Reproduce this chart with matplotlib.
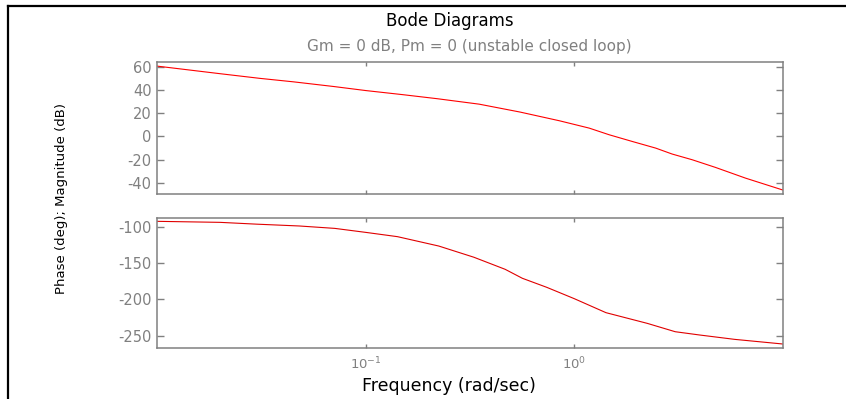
import matplotlib
matplotlib.use('Agg')

import matplotlib.pyplot as plt
from matplotlib.lines import Line2D
from matplotlib.ticker import FixedLocator, NullLocator

# open-loop response, magnitude branch
mag_freq = [0.01, 0.02, 0.031, 0.045, 0.07, 0.1, 0.15, 0.22, 0.35, 0.55,
            0.85, 1.18, 1.47, 1.9, 2.46, 2.95, 3.68, 4.76, 6.63, 10.0]
mag_db = [60.5, 54, 50, 47, 43, 39.5, 36, 32.5, 27.8, 21,
          13.5, 7.2, 1.5, -4.3, -10, -15.1, -20, -26.6, -35.8, -46]

# open-loop response, phase branch
phase_freq = [0.01, 0.02, 0.03, 0.048, 0.071, 0.1, 0.142, 0.224, 0.33, 0.466,
              0.564, 0.738, 1.0, 1.42, 2.24, 3.05, 3.99, 5.87, 10.0]
phase_deg = [-92.6, -94, -96.5, -99, -102.3, -107.8, -113.7, -126.6, -142, -158.6,
             -171, -183.4, -199, -218.3, -233, -244.5, -249, -255, -261.4]

mag_ticks = [60, 40, 20, 0, -20, -40]
phase_ticks = [-100, -150, -200, -250]
freq_ticks = [0.1, 1.0]

GREY = '#808080'

plt.rcParams['font.family'] = ['DejaVu Sans']
plt.rcParams['axes.unicode_minus'] = False

W, H = 846, 399
fig = plt.figure(figsize=(W / 100, H / 100), dpi=100)


def style_axes(ax, yticks):
    ax.set_xscale('log')
    ax.set_xlim(0.01, 10)
    ax.xaxis.set_major_locator(FixedLocator(freq_ticks))
    ax.xaxis.set_minor_locator(NullLocator())
    ax.set_yticks(yticks)
    for sp in ax.spines.values():
        sp.set_color(GREY)
        sp.set_linewidth(1.1)
    ax.tick_params(axis='both', which='both', direction='in', top=True, right=True,
                   color=GREY, labelcolor=GREY, width=1.0)
    ax.tick_params(axis='y', length=5, pad=4, labelsize=10.5)
    ax.tick_params(axis='x', length=3, pad=6, labelsize=9.5)


ax_mag = fig.add_axes([157.3 / W, 1 - 193.7 / H, (782.7 - 157.3) / W, (193.7 - 62.3) / H])
ax_mag.plot(mag_freq, mag_db, color='#ff0000', lw=0.8)
style_axes(ax_mag, mag_ticks)
ax_mag.set_ylim(-49.2, 63.8)
ax_mag.tick_params(axis='x', labelbottom=False)

ax_ph = fig.add_axes([157.3 / W, 1 - 347.7 / H, (782.7 - 157.3) / W, (347.7 - 217.7) / H])
ax_ph.plot(phase_freq, phase_deg, color='#e00000', lw=0.8)
style_axes(ax_ph, phase_ticks)
ax_ph.set_ylim(-266.5, -87.6)

fig.text(450 / W, 1 - 21 / H, 'Bode Diagrams', ha='center', va='center', fontsize=12)
fig.text(469 / W, 1 - 47 / H, 'Gm = 0 dB, Pm = 0 (unstable closed loop)',
         ha='center', va='center', fontsize=11, color=GREY)
fig.text(449 / W, 1 - 386 / H, 'Frequency (rad/sec)', ha='center', va='center', fontsize=12.5)
fig.text(62 / W, 1 - 199 / H, 'Phase (deg); Magnitude (dB)', ha='center', va='center',
         rotation=90, fontsize=9.5)

# window frame edges
fig.add_artist(Line2D([7.5 / W, 1], [1 - 5.5 / H] * 2, transform=fig.transFigure, color='k', lw=1.6))
fig.add_artist(Line2D([7.5 / W] * 2, [0, 1 - 5.5 / H], transform=fig.transFigure, color='k', lw=1.6))

fig.savefig('out.png', dpi=100)
